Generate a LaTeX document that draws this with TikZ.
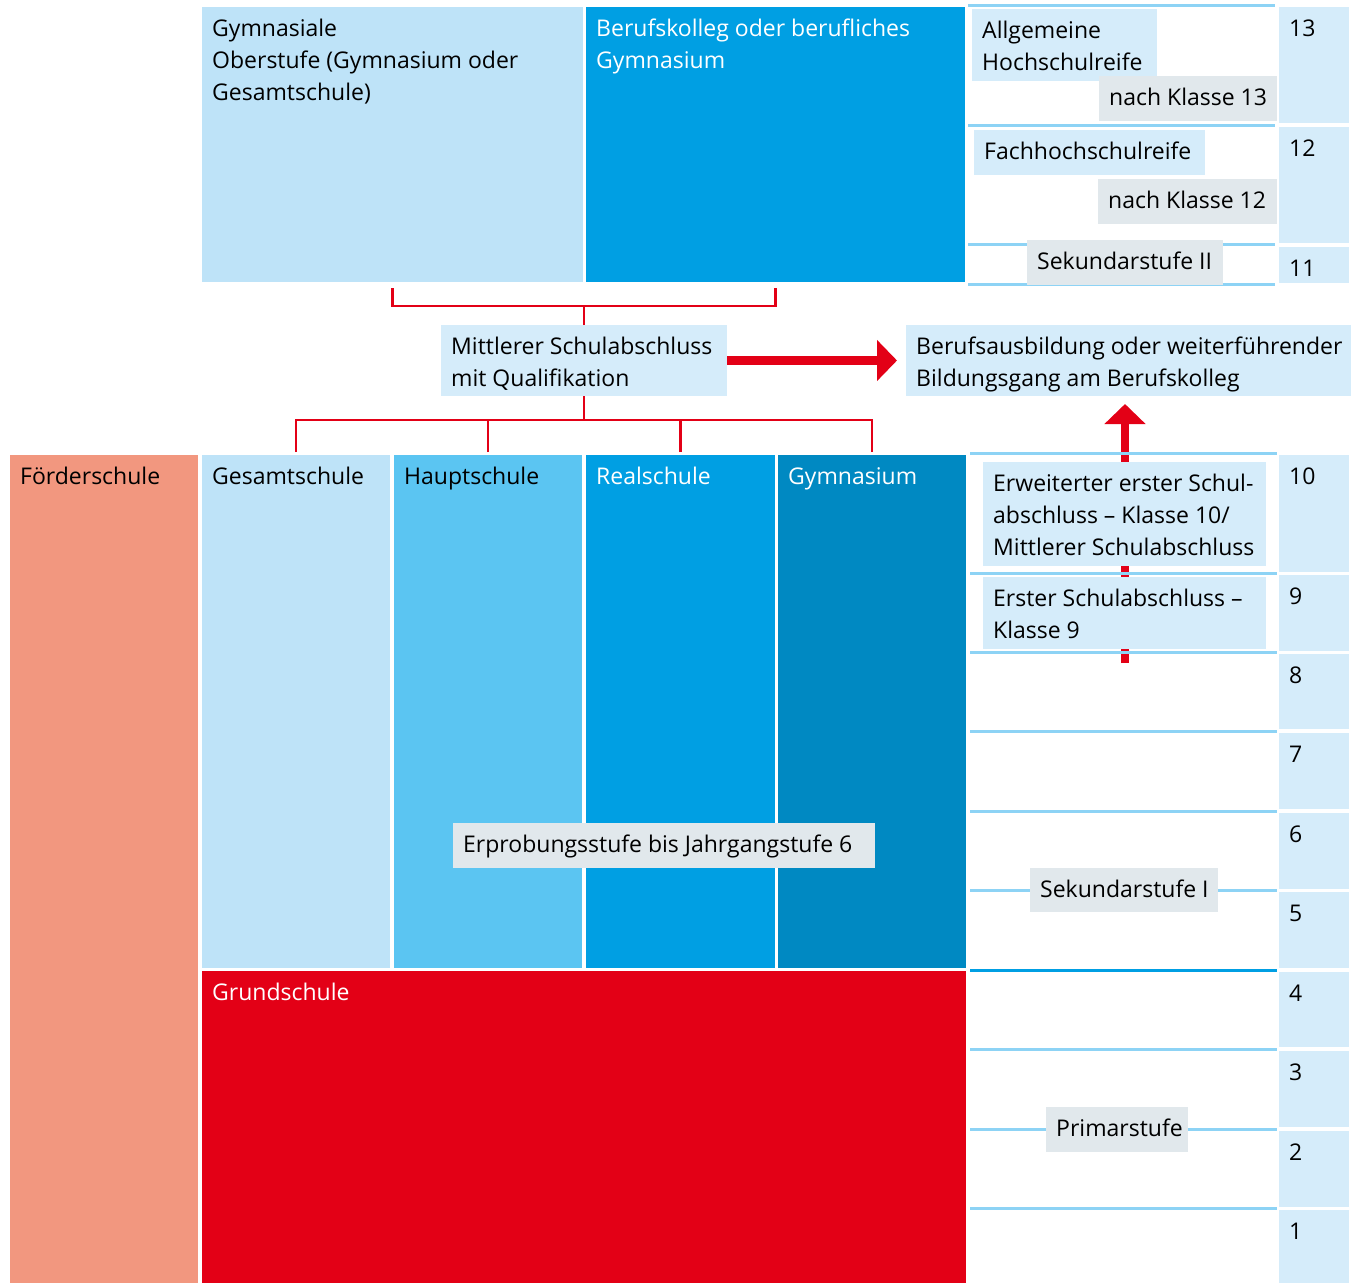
\documentclass[tikz,border=0pt]{standalone}
\usepackage{fontspec}
\setmainfont{Open Sans}
\usepackage{tikz}
\usetikzlibrary{fit,arrows.meta}
\definecolor{lightblk}{RGB}{190,227,248}
\definecolor{hauptc}{RGB}{91,197,242}
\definecolor{realc}{RGB}{0,159,227}
\definecolor{gymc}{RGB}{0,137,194}
\definecolor{foerderc}{RGB}{242,151,127}
\definecolor{grundc}{RGB}{227,0,22}
\definecolor{infoc}{RGB}{213,236,250}
\definecolor{grayc}{RGB}{225,232,236}
\definecolor{linec}{RGB}{141,211,245}
\tikzset{
  blk/.style={fill=#1, inner sep=0pt, outer sep=0pt},
  lbl/.style={anchor=base west, inner sep=0pt},
  stage/.style={draw=linec, line width=3pt},
  bracket/.style={draw=grundc, line width=2.5pt},
  bigarrow/.style={draw=grundc, line width=8.5pt, -{Triangle[width=40pt,length=20pt]}}
}
\newcommand{\lines}[1]{\begin{tabular}[t]{@{}l@{}}#1\end{tabular}}
% box with its label in the upper left corner
\newcommand{\panel}[6][black]{
  \node[#3, fit={(#4) (#5)}] (#2) {};
  \node[lbl, text=#1] (#2txt) at ([shift={(10,29)}]#2.north west) {\lines{#6}};
}
\begin{document}
\begin{tikzpicture}[x=1pt, y=-1pt, font=\fontsize{23pt}{32pt}\selectfont]
\useasboundingbox (0,0) rectangle (1353,1283);
% schools
\panel{gymo}{blk=lightblk}{202,7}{583,282}{Gymnasiale\\Oberstufe (Gymnasium oder\\Gesamtschule)}
\panel[white]{bk}{blk=realc}{586,7}{965,282}{Berufskolleg oder berufliches\\Gymnasium}
\panel{foerder}{blk=foerderc}{10,455}{198,1283}{Förderschule}
\panel{gesamt}{blk=lightblk}{202,455}{390,968}{Gesamtschule}
\panel{haupt}{blk=hauptc}{394,455}{582,968}{Hauptschule}
\panel[white]{real}{blk=realc}{586,455}{775,968}{Realschule}
\panel[white]{gym}{blk=gymc}{778,455}{966,968}{Gymnasium}
\panel[white]{grund}{blk=grundc}{202,971}{966,1283}{Grundschule}
\panel{erprob}{blk=grayc}{453,823}{875,868}{Erprobungsstufe bis Jahrgangstufe 6}
\panel{mittl}{blk=infoc}{441,325}{727,396}{Mittlerer Schulabschluss\\mit Qualifikation}
\panel{berufs}{blk=infoc}{906,325}{1351,396}{Berufsausbildung oder weiterführender\\Bildungsgang am Berufskolleg}
% brackets
\coordinate (upj) at ([yshift=-24pt]bk.south);
\draw[bracket] ([yshift=-6pt]gymo.south) |- (upj) -- ([yshift=-6pt]bk.south);
\draw[bracket] (mittl.north) -- (mittl.north |- upj);
\coordinate (lowj) at ([yshift=-24pt]mittl.south);
\draw[bracket] (mittl.south) -- (lowj);
\draw[bracket] ([yshift=3pt]gesamt.north) |- (lowj) -| ([yshift=3pt]gym.north);
\foreach \s in {haupt,real} \draw[bracket] ([yshift=3pt]\s.north) -- (\s.north |- lowj);
% arrows
\coordinate (abschl) at (1125,663);
\draw[bigarrow, shorten >=8pt] (abschl) -- (abschl |- berufs.south);
\draw[bigarrow, shorten >=9pt] (mittl.east) -- (berufs.west);
% stages
\foreach \y in {5,125,244,284} \draw[stage] (968,\y) -- (1275,\y);
\foreach \y in {453,573,652,731,811,890,1049,1129,1208} \draw[stage] (970,\y) -- (1277,\y);
\draw[stage, draw=realc] (970,970) -- (1277,970);
\panel{ahr}{blk=infoc}{972,9}{1157,81}{Allgemeine\\Hochschulreife}
\panel{nk13}{blk=grayc}{1099,76}{1277,121}{nach Klasse 13}
\panel{fhr}{blk=infoc}{974,130}{1205,175}{Fachhochschulreife}
\panel{nk12}{blk=grayc}{1098,179}{1277,224}{nach Klasse 12}
\panel{sek2}{blk=grayc}{1027,240}{1223,285}{Sekundarstufe II}
\panel{erw}{blk=infoc}{983,462}{1266,566}{Erweiterter erster Schul-\\abschluss – Klasse 10/\\Mittlerer Schulabschluss}
\panel{erster}{blk=infoc}{983,577}{1266,649}{Erster Schulabschluss –\\Klasse 9}
\panel{sek1}{blk=grayc}{1030,868}{1218,912}{Sekundarstufe I}
\panel{prim}{blk=grayc}{1046,1107}{1188,1152}{Primarstufe}
% grades
\foreach \n/\a/\b in {13/7/123, 12/127/243, 11/247/283, 10/455/572, 9/575/651, 8/654/729, 7/733/809, 6/813/889, 5/892/968, 4/972/1047, 3/1051/1127, 2/1131/1207, 1/1210/1283}
  {\panel{n\n}{blk=infoc}{1279,\a}{1349,\b}{\n}}
\end{tikzpicture}
\end{document}
